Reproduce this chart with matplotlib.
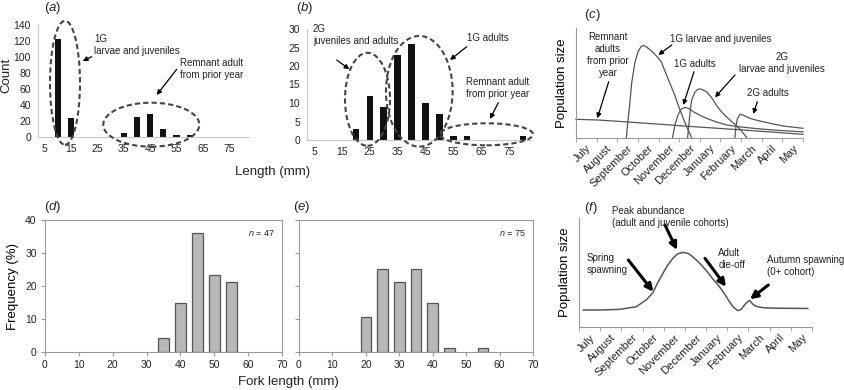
import matplotlib
matplotlib.use('Agg')
import matplotlib.pyplot as plt
from matplotlib.patches import Ellipse, FancyArrowPatch

plt.rcParams['font.family'] = ['Liberation Sans', 'DejaVu Sans']
plt.rcParams['mathtext.fontset'] = 'custom'
plt.rcParams['mathtext.it'] = 'Liberation Sans:italic'
plt.rcParams['mathtext.rm'] = 'Liberation Sans'

# ---- data ----
a_len = [10, 15, 35, 40, 45, 50, 55, 60]
a_count = [122, 24, 5, 25, 29, 10, 2, 3]
b_len = [20, 25, 30, 35, 40, 45, 50, 55, 60, 80]
b_count = [3, 12, 9, 23, 26, 10, 7, 1, 1, 1]
len_ticks = [5, 15, 25, 35, 45, 55, 65, 75]

months = ['July', 'August', 'September', 'October', 'November', 'December',
          'January', 'February', 'March', 'April', 'May']

# conceptual curves, x in months from July (0)
rem_x = [-0.5, 0.55, 2.0, 5.2, 8.0, 10.5]
rem_y = [16.6, 16.0, 14.2, 9.9, 6.3, 2.9]
g1l_x = [1.94, 2.0, 2.1, 2.2, 2.35, 2.5, 2.65, 2.76, 2.9, 3.1, 3.36, 3.63, 3.92, 4.25, 4.54, 4.86, 5.1]
g1l_y = [0, 12, 30, 50, 68, 78, 83, 84, 83, 80, 75.3, 69.2, 55.5, 40.4, 25, 9.9, 0]
g1a_x = [4.18, 4.3, 4.45, 4.6, 4.78, 5.0, 5.18, 5.5, 5.83, 6.3, 6.8, 7.5, 8.1, 9.0, 10.0, 10.5]
g1a_y = [0, 12, 21, 26, 27.5, 26.3, 23.6, 20.3, 17.5, 14.2, 11.4, 9.6, 8.4, 6.9, 5.7, 5.2]
g2l_x = [4.91, 5.0, 5.1, 5.25, 5.4, 5.55, 5.7, 5.83, 6.0, 6.15, 6.3, 6.48, 6.7, 6.96, 7.2, 7.45, 7.77]
g2l_y = [0, 18, 34, 41, 44, 44.3, 43, 41.8, 38, 34.2, 29.5, 25.1, 20.5, 16, 12, 7.5, 0]
g2a_x = [7.2, 7.25, 7.32, 7.45, 7.6, 7.93, 8.25, 8.57, 9.0, 9.54, 10.0, 10.5]
g2a_y = [0, 10, 17, 21.2, 20.5, 17.5, 15.8, 14.4, 12.6, 10.5, 9.5, 8.4]

f_x = [-0.3, 0.5, 1.43, 2.2, 2.67, 2.98, 3.2, 3.46, 3.7, 3.93, 4.15, 4.4, 4.65, 4.87, 5.2, 5.5,
       5.8, 6.13, 6.4, 6.6, 6.8, 7.0, 7.15, 7.26, 7.4, 7.55, 7.7, 7.86, 8.1, 8.33, 9.0, 10.3]
f_y = [15.6, 15.6, 16.2, 18.6, 24.8, 31.1, 40, 49.2, 57, 63, 67, 68.5, 67.5, 64.5, 58.5, 52,
       44.5, 37, 29.5, 23.2, 18, 15, 16, 19, 22, 24.5, 21, 19, 18, 17.5, 17.2, 17]

fork = [0, 10, 20, 30, 40, 50, 60, 70]
d_len = [35, 40, 45, 50, 55]
d_freq = [4.3, 14.9, 36.2, 23.4, 21.3]
e_len = [20, 25, 30, 35, 40, 45, 55]
e_freq = [10.7, 25.3, 21.3, 25.3, 14.7, 1.3, 1.3]

W, H = 845, 390
fig = plt.figure(figsize=(W / 100, H / 100), dpi=100)


def rect(l, t, r, b):
    return [l / W, 1 - b / H, (r - l) / W, (b - t) / H]


def P(x, y):
    return (x / W, 1 - y / H)


def txt(x, y, s, size=7, ha='left', **kw):
    fig.text(*P(x, y), s, fontsize=size, ha=ha, va='center', color='#222222',
             linespacing=1.25, **kw)


def arrow(x0, y0, x1, y1, lw=0.9, ms=7):
    fig.add_artist(FancyArrowPatch(P(x0, y0), P(x1, y1), transform=fig.transFigure,
                                   arrowstyle='-|>', mutation_scale=ms, lw=lw,
                                   color='black', shrinkA=0, shrinkB=0))


def ell(cx, cy, w, h):
    fig.add_artist(Ellipse(P(cx, cy), w / W, h / H, transform=fig.transFigure,
                           fill=False, ec='#444444', lw=1.5, ls=(0, (2.5, 1.5))))


# ---- (a) and (b) ----
ax_a = fig.add_axes(rect(38, 25, 249, 137))
ax_b = fig.add_axes(rect(307, 29, 530, 140))
for ax, xs, ys, top, step in [(ax_a, a_len, a_count, 140, 20), (ax_b, b_len, b_count, 30, 5)]:
    ax.bar(xs, ys, width=2.3, color='#111111')
    ax.set_xlim(2.5, 82.5)
    ax.set_ylim(0, top)
    ax.set_xticks(len_ticks)
    ax.set_yticks(range(0, top + 1, step))
    ax.tick_params(length=0, labelsize=7.5, colors='#222222', pad=5)
    for s in ['top', 'right']:
        ax.spines[s].set_visible(False)
    for s in ['left', 'bottom']:
        ax.spines[s].set_color('#c8c8c8')
txt(6, 75, 'Count', size=9.5, ha='center', rotation=90)
txt(273, 172, 'Length (mm)', size=9.5, ha='center')
txt(53, 8, r'($\it{a}$)', size=9.5, ha='center')
txt(305, 8, r'($\it{b}$)', size=9.5, ha='center')

txt(94, 44.5, '1G\nlarvae and juveniles')
txt(180, 69, 'Remnant adult\nfrom prior year')
arrow(91.7, 56.7, 82.7, 61)
arrow(176.7, 69.3, 156.7, 95)
ell(65, 82.8, 30, 124)
ell(151.3, 124.7, 96, 44)

txt(313, 35, '2G\njuveniles and adults')
txt(467, 38, '1G adults')
txt(466, 88, 'Remnant adult\nfrom prior year')
arrow(336.7, 60, 349.3, 69.3)
arrow(466.7, 46.7, 450, 60)
arrow(498.3, 102.7, 490, 119)
ell(367.5, 99.3, 45, 93)
ell(419.3, 91.3, 66.7, 110.7)
ell(486.5, 134.3, 93, 22)


# ---- (c) and (f) ----
def month_axes(r):
    ax = fig.add_axes(r)
    ax.set_xlim(-0.5, 10.5)
    ax.set_ylim(0, 100)
    ax.set_xticks(range(len(months)))
    ax.set_xticklabels(months, rotation=45, ha='right', rotation_mode='anchor')
    ax.set_xticks([i + 0.5 for i in range(-1, 11)], minor=True)
    ax.tick_params(axis='x', which='major', length=0, labelsize=8, pad=4, colors='#222222')
    ax.tick_params(axis='x', which='minor', length=3, color='#999999')
    ax.set_yticks([])
    for s in ['top', 'right']:
        ax.spines[s].set_visible(False)
    for s in ['left', 'bottom']:
        ax.spines[s].set_color('#999999')
    ax.set_ylabel('Population size', fontsize=9.5, labelpad=6)
    return ax


ax_c = month_axes(rect(576, 28, 803, 137.5))
for xs, ys in [(rem_x, rem_y), (g1l_x, g1l_y), (g1a_x, g1a_y), (g2l_x, g2l_y), (g2a_x, g2a_y)]:
    ax_c.plot(xs, ys, color='#555555', lw=0.9, clip_on=False)
txt(592, 15, r'($\it{c}$)', size=9.5, ha='center')
txt(608, 55.5, 'Remnant\nadults\nfrom prior\nyear', ha='center', multialignment='center')
txt(670, 39, '1G larvae and juveniles')
txt(695, 64, '1G adults', ha='center')
txt(781.7, 63.5, '2G\nlarvae and juveniles', ha='center', multialignment='center')
txt(768, 93, '2G adults', ha='center')
arrow(608.7, 81.7, 597.3, 118.3)
arrow(671.7, 45, 658.3, 55)
arrow(694, 71.7, 683.3, 105)
arrow(735, 75, 715, 97.3)
arrow(757.3, 101.7, 753.3, 114)

ax_f = month_axes(rect(579, 218, 812, 327))
ax_f.plot(f_x, f_y, color='#555555', lw=1.1)
txt(591, 208, r'($\it{f}$)', size=9.5, ha='center')
txt(611.7, 217.5, 'Peak abundance\n(adult and juvenile cohorts)')
txt(586.7, 264, 'Spring\nspawning')
txt(718.3, 259, 'Adult\ndie-off')
txt(766.7, 266, 'Autumn spawning\n(0+ cohort)')
arrow(665, 225, 677, 250, lw=2.2, ms=11)
arrow(628.3, 260, 653.3, 291.7, lw=2.2, ms=11)
arrow(705, 258.3, 726, 286.7, lw=2.2, ms=11)
arrow(768.3, 285, 750, 299.3, lw=2.2, ms=11)

# ---- (d) and (e) ----
ax_d = fig.add_axes(rect(45, 220, 282, 352))
ax_e = fig.add_axes(rect(299, 220, 533, 352))
for ax, xs, ys, n in [(ax_d, d_len, d_freq, 47), (ax_e, e_len, e_freq, 75)]:
    ax.bar(xs, ys, width=3.2, color='#b8b8b8', edgecolor='#555555', lw=0.9)
    ax.set_xlim(0, 70)
    ax.set_ylim(0, 40)
    ax.set_xticks(fork)
    ax.set_yticks(range(0, 41, 10))
    ax.tick_params(length=3, labelsize=7.5, colors='#222222', pad=3)
    ax.tick_params(color='#999999')
    for s in ax.spines.values():
        s.set_color('#999999')
    ax.text(0.97, 0.9, r'$\it{n}$ = %d' % n, transform=ax.transAxes, ha='right',
            va='center', fontsize=6.5, color='#222222')
ax_e.set_yticklabels([])
ax_d.set_ylabel('Frequency (%)', fontsize=9.5, labelpad=4)
txt(288, 382, 'Fork length (mm)', size=9.5, ha='center')
txt(53, 207, r'($\it{d}$)', size=9.5, ha='center')
txt(302, 207, r'($\it{e}$)', size=9.5, ha='center')

fig.savefig('out.png', dpi=100)
